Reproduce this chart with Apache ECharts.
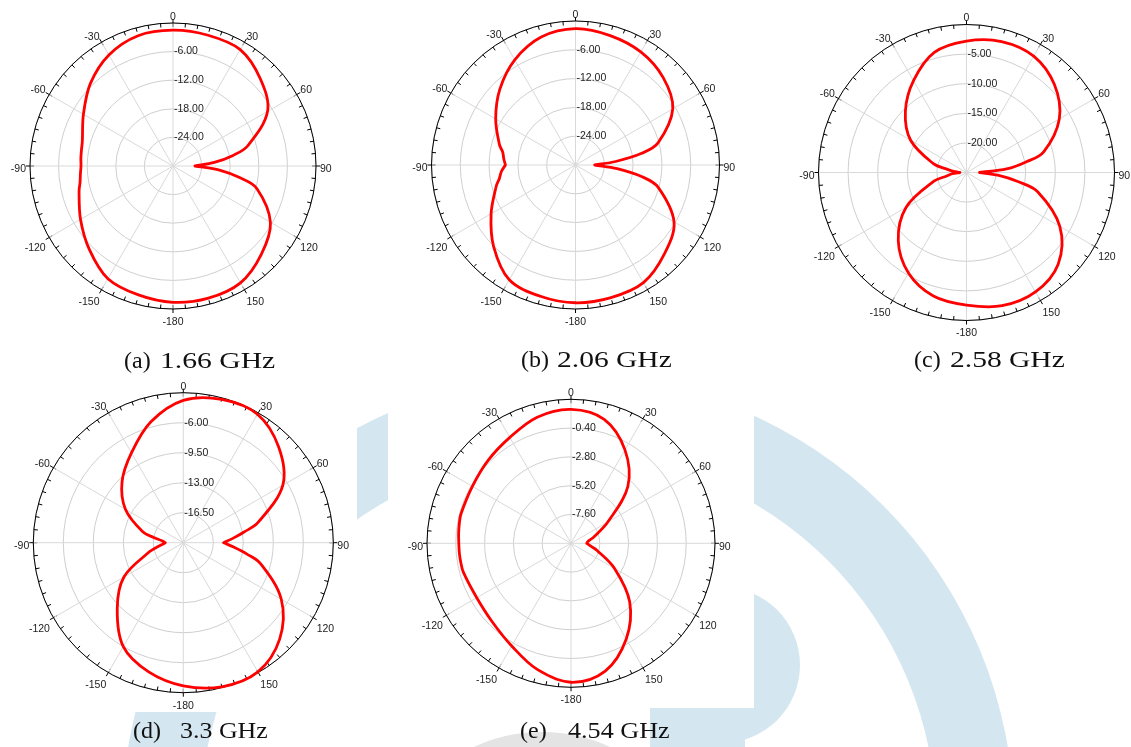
<!DOCTYPE html>
<html><head><meta charset="utf-8">
<script src="https://cdn.jsdelivr.net/npm/echarts@6.0.0/dist/echarts.min.js"></script>
<style>html,body{margin:0;padding:0;background:#fff}#c{width:1131px;height:747px}</style>
</head><body><div id="c"></div>
<script>
// ---- data ----
const angles = [-180,-165,-150,-135,-120,-105,-100,-95,-90,-85,-80,-75,-60,-45,-30,-15,0,15,30,45,60,75,80,85,90,95,100,105,120,135,150,165,180];
const gainA = [-1.4,-2.0,-2.7,-5.2,-7.6,-9.6,-10.2,-10.5,-10.7,-10.6,-10.5,-10.3,-8.3,-5.5,-3.1,-1.7,-1.5,-1.6,-1.8,-4.1,-7.1,-13.8,-17.2,-21.3,-25.4,-20.2,-15.7,-11.8,-6.4,-3.8,-1.7,-1.3,-1.4];
const gainB = [-1.3,-1.7,-2.4,-5.9,-9.7,-12.9,-13.9,-14.5,-15.4,-15.0,-14.6,-13.6,-10.8,-7.7,-4.7,-2.4,-1.6,-2.1,-2.8,-4.2,-6.6,-12.2,-16.0,-21.6,-26.0,-21.3,-15.9,-12.2,-6.3,-3.8,-1.7,-1.4,-1.3];
const gainC = [-2.6,-3.4,-5.4,-8.7,-13.2,-19.3,-21.6,-22.6,-23.9,-22.8,-21.5,-19.2,-14.1,-10.4,-7.1,-4.0,-2.8,-2.1,-2.3,-4.0,-6.9,-11.5,-14.8,-18.2,-22.8,-19.7,-16.2,-12.6,-6.8,-3.1,-1.7,-1.7,-2.6];
const gainD = [-3.3,-4.4,-6.0,-9.1,-12.0,-15.9,-16.8,-17.5,-17.9,-17.5,-16.5,-15.1,-12.2,-9.9,-7.9,-5.4,-3.4,-2.7,-2.7,-4.25,-6.6,-11.0,-12.8,-14.2,-15.3,-14.1,-12.5,-10.7,-6.8,-4.1,-2.6,-2.6,-3.3];
const gainE = [1.58,0.88,-0.12,-0.73,-0.93,-0.71,-0.68,-0.66,-0.65,-0.6,-0.55,-0.51,-0.51,-0.23,0.19,0.88,1.16,0.69,-1.01,-3.3,-6.46,-8.05,-8.4,-8.6,-8.69,-8.5,-8.2,-7.77,-5.81,-3.08,-0.79,1.02,1.58];
const ringsA = [-30,-24,-18,-12,-6,0];
const ringsB = [-30,-24,-18,-12,-6,0];
const ringsC = [-25,-20,-15,-10,-5,0];
const ringsD = [-20,-16.5,-13,-9.5,-6,-2.5];
const ringsE = [-10,-7.6,-5.2,-2.8,-0.4,2];
const letters = ['(a)','(b)','(c)','(d)','(e)'];
const freqs = ['1.66 GHz','2.06 GHz','2.58 GHz','3.3 GHz','4.54 GHz'];

const gains = [gainA,gainB,gainC,gainD,gainE];
const rings = [ringsA,ringsB,ringsC,ringsD,ringsE];

// ---- layout / style ----
const layout = [
  {cx:173, cy:166, r:143, lx:124, fx:160, ty:362, sx:1.235, tips:[90]},
  {cx:575.5, cy:165, r:144, lx:521, fx:557, ty:361, sx:1.23, tips:[-90,90]},
  {cx:966.5, cy:172.5, r:148, lx:914, fx:950, ty:361, sx:1.23, tips:[-90,90]},
  {cx:183.3, cy:542.7, r:150, lx:133, fx:180, ty:732, sx:1.08, tips:[-90,90]},
  {cx:571, cy:543.3, r:144, lx:520, fx:568, ty:732, sx:1.09, tips:[90]}
];

const polar=[], angleAxis=[], radiusAxis=[], series=[], graphic=[];
const blue = '#d4e6f0';
graphic.push({type:'ring', silent:true, z:-20, shape:{cx:568,cy:821,r:446,r0:368}, style:{fill:blue}});
graphic.push({type:'circle', silent:true, z:-20, shape:{cx:722,cy:665,r:78}, style:{fill:blue}});
graphic.push({type:'rect', silent:true, z:-20, shape:{x:650,y:705,width:95,height:42}, style:{fill:blue}});
graphic.push({type:'ellipse', silent:true, z:-20, shape:{cx:542,cy:802,rx:110,ry:70}, style:{fill:'#e4e4e4'}});
graphic.push({type:'rect', silent:true, z:-15, shape:{x:0,y:372,width:357,height:340}, style:{fill:'#fff'}});
graphic.push({type:'rect', silent:true, z:-15, shape:{x:388,y:372,width:366,height:336}, style:{fill:'#fff'}});

const toAxisAngle = a => (a < 0 ? a + 360 : a);
const angleLabel = v => (v >= 360 ? '' : (v >= 180 ? String(v - 360) : String(v)));
const n = gains.length;

// closed smooth curve (Hermite through the projected points), sharp at the given indices
function closedSmoothPath(P, sharp) {
  const m = P.length;
  const norm = (v) => { const l = Math.hypot(v[0], v[1]) || 1; return [v[0]/l, v[1]/l]; };
  const sub = (a,b) => [a[0]-b[0], a[1]-b[1]];
  const outDir = i => sharp.has(i) ? norm(sub(P[(i+1)%m], P[i])) : norm(sub(P[(i+1)%m], P[(i-1+m)%m]));
  const inDir  = i => sharp.has(i) ? norm(sub(P[i], P[(i-1+m)%m])) : norm(sub(P[(i+1)%m], P[(i-1+m)%m]));
  let d = 'M' + P[0][0].toFixed(2) + ' ' + P[0][1].toFixed(2);
  for (let i = 0; i < m; i++) {
    const a = P[i], b = P[(i+1)%m];
    const len = Math.hypot(b[0]-a[0], b[1]-a[1]) / 3;
    const t0 = outDir(i), t1 = inDir((i+1)%m);
    const c1 = [a[0] + t0[0]*len, a[1] + t0[1]*len];
    const c2 = [b[0] - t1[0]*len, b[1] - t1[1]*len];
    d += ' C' + c1[0].toFixed(2) + ' ' + c1[1].toFixed(2) + ' ' + c2[0].toFixed(2) + ' ' + c2[1].toFixed(2) + ' ' + b[0].toFixed(2) + ' ' + b[1].toFixed(2);
  }
  return d + ' Z';
}

gains.forEach((g,i)=>{
  const L = layout[i];
  const rg = rings[i];
  const mn = rg[0], mx = rg[rg.length-1], step = rg[1]-rg[0];
  polar.push({center:[L.cx,L.cy], radius:L.r});
  angleAxis.push({
    polarIndex:i, type:'value', min:0, max:360, interval:30, startAngle:90, clockwise:true,
    axisLine:{show:true, lineStyle:{color:'#000', width:1}},
    axisTick:{show:true, inside:true, length:4, lineStyle:{color:'#000', width:1}},
    minorTick:{show:true, splitNumber:6, length:4, lineStyle:{color:'#000', width:1}},
    axisLabel:{show:false},
    splitLine:{show:true, lineStyle:{color:'#d9d9d9', width:1}}
  });
  radiusAxis.push({
    polarIndex:i, type:'value', min:mn, max:mx, interval:step,
    axisLine:{show:false}, axisTick:{show:false},
    axisLabel:{show:true, margin:-1, align:'left', verticalAlign:'middle', padding:[0,0,6,0], color:'#222', fontSize:10.5, fontFamily:'Liberation Sans',
      formatter: v => (Math.abs(v-mn)<1e-6 || Math.abs(v-mx)<1e-6) ? '' : v.toFixed(2)},
    splitLine:{show:true, lineStyle:{color:'#cfcfcf', width:1}}
  });
  // pattern curve: one closed path through all data points (last point duplicates the first)
  const pts = angles.map((a,k)=>[g[k], toAxisAngle(a)]);
  const count = pts.length - 1;
  const sharp = new Set(L.tips.map(t => angles.indexOf(t)));
  series.push({
    type:'custom', coordinateSystem:'polar', polarIndex:i, z:5, silent:true,
    data: pts,
    renderItem: (params, api) => {
      if (params.dataIndex !== 0) return null;
      const P = [];
      for (let k = 0; k < count; k++) P.push(api.coord([api.value(0, k), api.value(1, k)]));
      return {type:'path', shape:{pathData: closedSmoothPath(P, sharp)},
              style:{stroke:'#ff0000', fill:'none', lineWidth:2.8, lineJoin:'round'}};
    }
  });
  graphic.push({type:'text', z:10, x:L.lx, y:L.ty, style:{text:letters[i], fill:'#111', fontSize:24, fontFamily:'Liberation Serif', verticalAlign:'middle'}});
  graphic.push({type:'text', z:10, x:L.fx, y:L.ty, scaleX:L.sx, style:{text:freqs[i], fill:'#111', fontSize:24, fontFamily:'Liberation Serif', verticalAlign:'middle'}});
});

// overlay polars: outward part of the major ticks
gains.forEach((g,i)=>{
  const L = layout[i];
  polar.push({center:[L.cx,L.cy], radius:L.r});
  angleAxis.push({
    polarIndex:n+i, type:'value', min:0, max:360, interval:30, startAngle:90, clockwise:true,
    axisLine:{show:false}, axisLabel:{show:false}, splitLine:{show:false},
    axisTick:{show:true, inside:false, length:4, lineStyle:{color:'#000', width:1}}
  });
  radiusAxis.push({polarIndex:n+i, type:'value', min:0, max:1, show:false});
});
// overlay polars: angle labels (slightly lowered like the reference)
gains.forEach((g,i)=>{
  const L = layout[i];
  polar.push({center:[L.cx,L.cy+3.5], radius:L.r});
  angleAxis.push({
    polarIndex:2*n+i, type:'value', min:0, max:360, interval:30, startAngle:90, clockwise:true,
    axisLine:{show:false}, axisTick:{show:false}, splitLine:{show:false},
    axisLabel:{show:true, margin:4, color:'#222', fontSize:10.5, fontFamily:'Liberation Sans', formatter: angleLabel}
  });
  radiusAxis.push({polarIndex:2*n+i, type:'value', min:0, max:1, show:false});
});

const chart = echarts.init(document.getElementById('c'), null, {renderer:'canvas'});
chart.setOption({animation:false, backgroundColor:'#fff', polar, angleAxis, radiusAxis, series, graphic});
</script></body></html>
